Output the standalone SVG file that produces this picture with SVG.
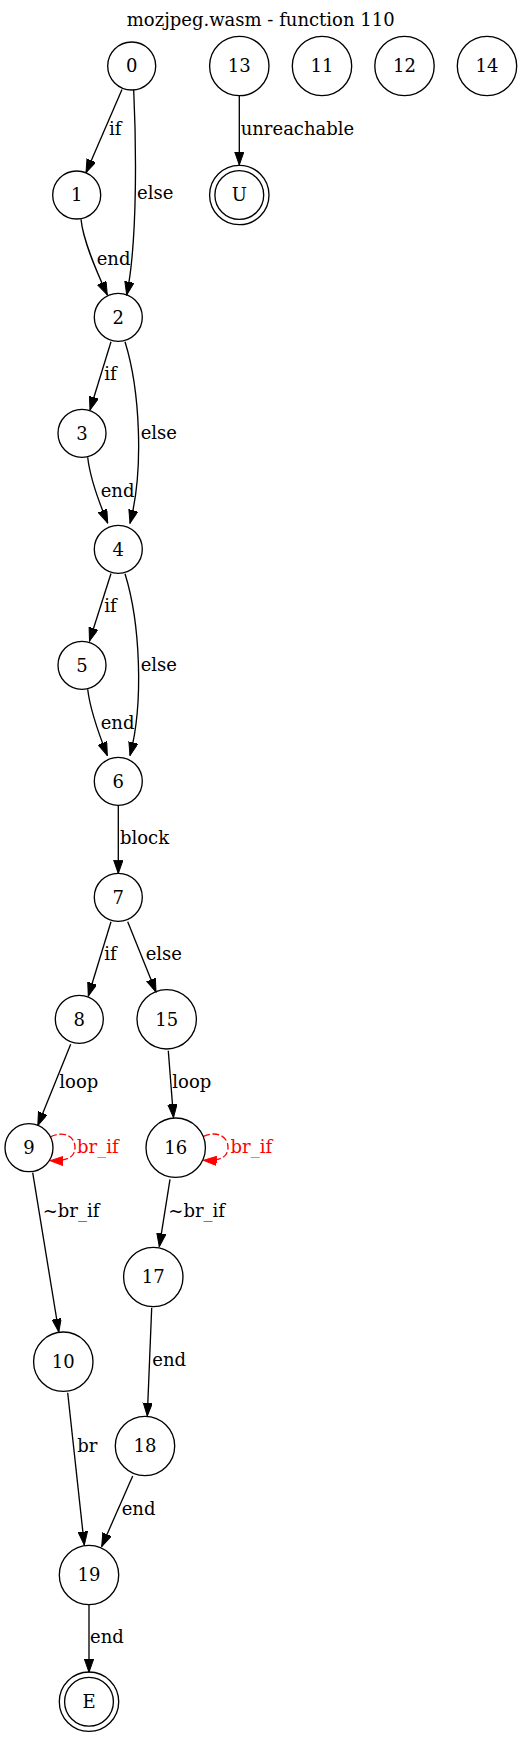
<svg xmlns="http://www.w3.org/2000/svg" width="532" height="1738" viewBox="0 0 532 1738">
<style>
text{font-family:"DejaVu Serif","Liberation Serif",serif;font-size:18px;fill:#000}
.n text{text-anchor:middle}
.n circle{fill:none;stroke:#000;stroke-width:1.33}
.e path{fill:none;stroke:#000;stroke-width:1.33}
.e .r{stroke:#f00;stroke-dasharray:6.67,2.67}
.lr{fill:#f00}
</style>
<defs>
<marker id="a" markerUnits="userSpaceOnUse" markerWidth="14" markerHeight="10" refX="13.3" refY="4.67" orient="auto"><path d="M0,0L13.3,4.67L0,9.33z" fill="#000" stroke="#000" stroke-width="1"/></marker>
<marker id="ar" markerUnits="userSpaceOnUse" markerWidth="14" markerHeight="10" refX="13.3" refY="4.67" orient="auto"><path d="M0,0L13.3,4.67L0,9.33z" fill="#f00" stroke="#f00" stroke-width="1"/></marker>
</defs>
<rect width="532" height="1738" fill="#fff"/>
<text x="260.7" y="25.5" text-anchor="middle">mozjpeg.wasm - function 110</text>
<g class="e" id="edges">
<path d="M122,89.5L86,172.7" marker-end="url(#a)"/>
<path d="M133.7,90C136,140 138,240 126.7,295" marker-end="url(#a)"/>
<path d="M239.3,96L239.3,165" marker-end="url(#a)"/>
<path d="M81,219.3C83,240 95,268 107.3,295" marker-end="url(#a)"/>
<path d="M111,341.7L90,410" marker-end="url(#a)"/>
<path d="M125,341.7C140,390 144,470 130,523.3" marker-end="url(#a)"/>
<path d="M87.7,457.3C90,478 98,500 107.7,523" marker-end="url(#a)"/>
<path d="M111,573.5L89.5,641" marker-end="url(#a)"/>
<path d="M125,573.7C140,622 144,702 130,755.5" marker-end="url(#a)"/>
<path d="M87.7,689.3C90,710 98,732 107.3,755.5" marker-end="url(#a)"/>
<path d="M118.3,805.3L118.3,873.5" marker-end="url(#a)"/>
<path d="M111,921.7L88.3,996" marker-end="url(#a)"/>
<path d="M127.7,921.7L156,992" marker-end="url(#a)"/>
<path d="M70.7,1044.3L37.8,1125.5" marker-end="url(#a)"/>
<path d="M168.3,1050.7L173.5,1117.5" marker-end="url(#a)"/>
<path class="r" d="M50.4,1136.8C62,1131 75,1135 75,1147.5C75,1158 66,1161 50,1160.7" marker-end="url(#ar)"/>
<path class="r" d="M203.5,1136.3C215,1131 228,1135 228,1147.5C228,1158 219,1161 203.3,1160.3" marker-end="url(#ar)"/>
<path d="M32.7,1172.7L58.8,1332" marker-end="url(#a)"/>
<path d="M170,1179.3L159.3,1246.7" marker-end="url(#a)"/>
<path d="M151.7,1307.7L147.3,1416" marker-end="url(#a)"/>
<path d="M67.7,1392.7L84.3,1545" marker-end="url(#a)"/>
<path d="M132.7,1476L101.7,1546.5" marker-end="url(#a)"/>
<path d="M89,1605L89,1672.3" marker-end="url(#a)"/>
<text x="109" y="135">if</text>
<text x="137" y="199">else</text>
<text x="240.7" y="135">unreachable</text>
<text x="96.7" y="265">end</text>
<text x="104.3" y="380">if</text>
<text x="140.7" y="438.7">else</text>
<text x="100.7" y="496.7">end</text>
<text x="104.3" y="612.3">if</text>
<text x="140.7" y="670.7">else</text>
<text x="100.7" y="729">end</text>
<text x="120" y="844.3">block</text>
<text x="104.3" y="960">if</text>
<text x="145.7" y="960">else</text>
<text x="59.3" y="1088.3">loop</text>
<text x="172.3" y="1088.3">loop</text>
<text class="lr" x="77" y="1153.3">br_if</text>
<text class="lr" x="230.5" y="1153.3">br_if</text>
<text x="42.7" y="1217.3">~br_if</text>
<text x="168.3" y="1217.3">~br_if</text>
<text x="152.3" y="1366">end</text>
<text x="77.3" y="1451.7">br</text>
<text x="121.7" y="1515">end</text>
<text x="90" y="1643.3">end</text>
</g>
<g class="n" id="node0"><circle cx="131.7" cy="66" r="24"/><text x="131.7" y="72.3">0</text></g>
<g class="n" id="node13"><circle cx="239.3" cy="66" r="29.7"/><text x="239.3" y="72.3">13</text></g>
<g class="n" id="node11"><circle cx="322" cy="66" r="29.7"/><text x="322" y="72.3">11</text></g>
<g class="n" id="node12"><circle cx="404.5" cy="66" r="29.7"/><text x="404.5" y="72.3">12</text></g>
<g class="n" id="node14"><circle cx="487" cy="66" r="29.7"/><text x="487" y="72.3">14</text></g>
<g class="n" id="node1"><circle cx="76.7" cy="195" r="24"/><text x="76.7" y="201.3">1</text></g>
<g class="n" id="nodeU"><circle cx="239.3" cy="195" r="29.7"/><circle cx="239.3" cy="195" r="24.4"/><text x="239.3" y="201.3">U</text></g>
<g class="n" id="node2"><circle cx="118.3" cy="317.3" r="24"/><text x="118.3" y="323.6">2</text></g>
<g class="n" id="node3"><circle cx="82" cy="433.3" r="24"/><text x="82" y="439.6">3</text></g>
<g class="n" id="node4"><circle cx="118.3" cy="549.3" r="24"/><text x="118.3" y="555.6">4</text></g>
<g class="n" id="node5"><circle cx="82" cy="665.3" r="24"/><text x="82" y="671.6">5</text></g>
<g class="n" id="node6"><circle cx="118.3" cy="781.3" r="24"/><text x="118.3" y="787.6">6</text></g>
<g class="n" id="node7"><circle cx="118.3" cy="897.3" r="24"/><text x="118.3" y="903.6">7</text></g>
<g class="n" id="node8"><circle cx="79.3" cy="1019.3" r="24"/><text x="79.3" y="1025.6">8</text></g>
<g class="n" id="node15"><circle cx="166.7" cy="1019.3" r="29.7"/><text x="166.7" y="1025.6">15</text></g>
<g class="n" id="node9"><circle cx="29" cy="1147.7" r="24"/><text x="29" y="1154">9</text></g>
<g class="n" id="node16"><circle cx="175.7" cy="1147.7" r="29.7"/><text x="175.7" y="1154">16</text></g>
<g class="n" id="node10"><circle cx="63.3" cy="1361.7" r="29.7"/><text x="63.3" y="1368">10</text></g>
<g class="n" id="node17"><circle cx="153.3" cy="1277" r="29.7"/><text x="153.3" y="1283.3">17</text></g>
<g class="n" id="node18"><circle cx="145" cy="1446" r="29.7"/><text x="145" y="1452.3">18</text></g>
<g class="n" id="node19"><circle cx="89" cy="1575" r="29.7"/><text x="89" y="1581.3">19</text></g>
<g class="n" id="nodeE"><circle cx="89" cy="1701.7" r="29.7"/><circle cx="89" cy="1701.7" r="24.4"/><text x="89" y="1708">E</text></g>
</svg>
